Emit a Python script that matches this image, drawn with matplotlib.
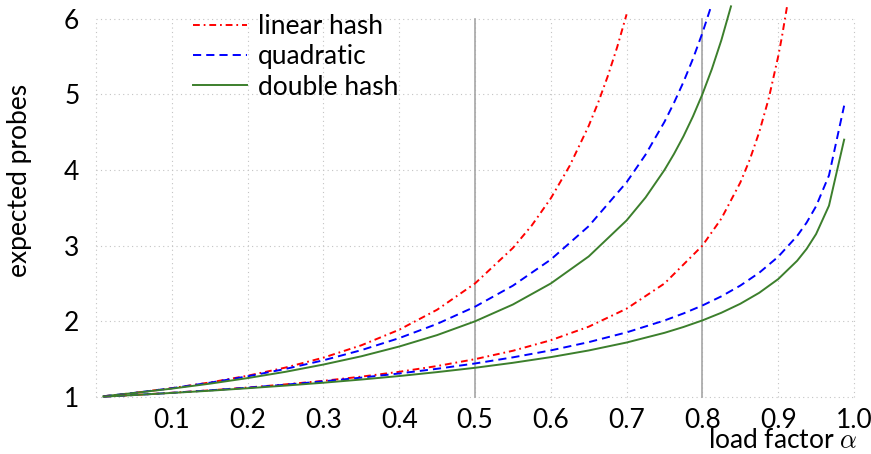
import numpy as np
import matplotlib
matplotlib.use("Agg")
import matplotlib.pyplot as plt

plt.rcParams['font.family'] = ['Lato', 'DejaVu Sans']
plt.rcParams['mathtext.fontset'] = 'cm'

# load factor samples and expected probes
# upper group (unsuccessful search)
lin_u_x = [0.01, 0.05, 0.10, 0.15, 0.20, 0.25, 0.30, 0.35, 0.40, 0.45, 0.50,
           0.55, 0.575, 0.60, 0.625, 0.65, 0.6625, 0.675, 0.6875, 0.70]
lin_u_y = [1.010, 1.054, 1.117, 1.192, 1.281, 1.389, 1.520, 1.683, 1.889, 2.153, 2.500,
           2.969, 3.268, 3.625, 4.056, 4.582, 4.890, 5.234, 5.620, 6.056]

quad_u_x = [0.01, 0.05, 0.10, 0.15, 0.20, 0.25, 0.30, 0.35, 0.40, 0.45, 0.50,
            0.55, 0.60, 0.65, 0.70, 0.725, 0.75, 0.7625, 0.775, 0.7875, 0.80, 0.811]
quad_u_y = [1.010, 1.054, 1.116, 1.189, 1.273, 1.371, 1.485, 1.619, 1.778, 1.966, 2.193,
            2.471, 2.816, 3.257, 3.837, 4.202, 4.636, 4.886, 5.161, 5.467, 5.809, 6.146]

dbl_u_x = [0.01, 0.05, 0.10, 0.15, 0.20, 0.25, 0.30, 0.35, 0.40, 0.45, 0.50,
           0.55, 0.60, 0.65, 0.70, 0.725, 0.75, 0.7625, 0.775, 0.7875, 0.80,
           0.8125, 0.825, 0.8377]
dbl_u_y = [1.010, 1.053, 1.111, 1.176, 1.250, 1.333, 1.429, 1.538, 1.667, 1.818, 2.000,
           2.222, 2.500, 2.857, 3.333, 3.636, 4.000, 4.211, 4.444, 4.706, 5.000,
           5.333, 5.714, 6.161]

# lower group (successful search)
lin_s_x = [0.01, 0.05, 0.10, 0.15, 0.20, 0.25, 0.30, 0.35, 0.40, 0.45, 0.50,
           0.55, 0.60, 0.65, 0.70, 0.75, 0.80, 0.825, 0.85, 0.8625, 0.875, 0.8875,
           0.90, 0.905, 0.9115]
lin_s_y = [1.005, 1.026, 1.056, 1.088, 1.125, 1.167, 1.214, 1.269, 1.333, 1.409, 1.500,
           1.611, 1.750, 1.929, 2.167, 2.500, 3.000, 3.357, 3.833, 4.136, 4.500, 4.944,
           5.500, 5.763, 6.150]

quad_s_x = [0.01, 0.05, 0.10, 0.15, 0.20, 0.25, 0.30, 0.35, 0.40, 0.45, 0.50,
            0.55, 0.60, 0.65, 0.70, 0.75, 0.775, 0.80, 0.825, 0.85, 0.875, 0.90,
            0.925, 0.9375, 0.95, 0.967, 0.987]
quad_s_y = [1.005, 1.026, 1.055, 1.088, 1.123, 1.163, 1.207, 1.256, 1.311, 1.373, 1.443,
            1.524, 1.616, 1.725, 1.854, 2.011, 2.104, 2.209, 2.330, 2.472, 2.642, 2.853,
            3.128, 3.304, 3.521, 3.928, 4.849]

dbl_s_x = [0.01, 0.05, 0.10, 0.15, 0.20, 0.25, 0.30, 0.35, 0.40, 0.45, 0.50,
           0.55, 0.60, 0.65, 0.70, 0.75, 0.775, 0.80, 0.825, 0.85, 0.875, 0.90,
           0.925, 0.9375, 0.95, 0.967, 0.987]
dbl_s_y = [1.005, 1.026, 1.054, 1.083, 1.116, 1.151, 1.189, 1.231, 1.277, 1.329, 1.386,
           1.452, 1.527, 1.615, 1.720, 1.848, 1.925, 2.012, 2.113, 2.232, 2.377, 2.558,
           2.800, 2.957, 3.153, 3.528, 4.400]

x_ticks = [0.1, 0.2, 0.3, 0.4, 0.5, 0.6, 0.7, 0.8, 0.9, 1.0]
y_ticks = [1, 2, 3, 4, 5, 6]
marker_x = [0.5, 0.8]

red = '#ff0000'
blue = '#0000ff'
green = '#3c7f2c'
lw = 1.4
dashdot = (0, (3.5, 2.0, 0.9, 2.0))
dashed = (0, (4.2, 2.6))
fs = 19

fig = plt.figure(figsize=(8.71, 4.54), dpi=100)
ax = fig.add_axes([96 / 871, 1 - 400.8 / 454, 758 / 871, 397.4 / 454])
ax.set_xlim(0, 1)
ax.set_ylim(0.95, 6.2)

# dotted grid, only inside the 0..1 x 1..6 box
for gx in [0.0] + x_ticks:
    ax.plot([gx, gx], [1, 6], color='#c4c4c4', lw=0.8, ls=(0, (1, 3)),
            clip_on=False, zorder=0)
for gy in y_ticks:
    ax.plot([0, 1], [gy, gy], color='#c4c4c4', lw=0.8, ls=(0, (1, 3)),
            clip_on=False, zorder=0)
for mx in marker_x:
    ax.plot([mx, mx], [1, 6], color='#a6a6a6', lw=1.2, zorder=1)

ax.plot(lin_u_x, lin_u_y, color=red, lw=lw, ls=dashdot, label='linear hash')
ax.plot(quad_u_x, quad_u_y, color=blue, lw=lw, ls=dashed, label='quadratic')
ax.plot(dbl_u_x, dbl_u_y, color=green, lw=lw, label='double hash')
ax.plot(lin_s_x, lin_s_y, color=red, lw=lw, ls=dashdot)
ax.plot(quad_s_x, quad_s_y, color=blue, lw=lw, ls=dashed)
ax.plot(dbl_s_x, dbl_s_y, color=green, lw=lw)

ax.set_xticks(x_ticks)
ax.set_xticklabels(['%.1f' % v for v in x_ticks])
ax.set_yticks(y_ticks)
ax.tick_params(length=0, labelsize=fs)
ax.tick_params(axis='x', pad=5.5)
ax.tick_params(axis='y', pad=12)
for s in ax.spines.values():
    s.set_visible(False)

fig.text(857 / 871, 1 / 454, r'load factor $\alpha$', ha='right', va='bottom',
         fontsize=fs)
fig.text(20 / 871, 1 - 180 / 454, 'expected probes', rotation=90, ha='center',
         va='center', fontsize=fs)

ax.legend(loc='upper left', bbox_to_anchor=(193 / 871, 1 - 14 / 454),
          bbox_transform=fig.transFigure, frameon=False, fontsize=fs,
          handlelength=2.05, handletextpad=0.42, labelspacing=0.2,
          borderpad=0, borderaxespad=0)

fig.savefig('out.png', dpi=100)
